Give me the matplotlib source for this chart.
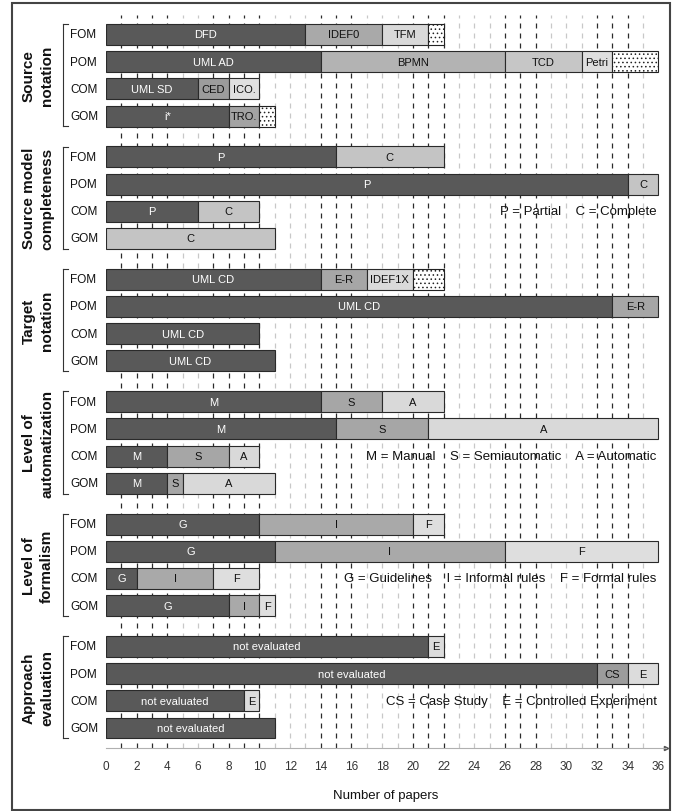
import matplotlib
matplotlib.use("Agg")
import matplotlib.pyplot as plt
from matplotlib.transforms import blended_transform_factory
from matplotlib.patches import Rectangle
from matplotlib.lines import Line2D

plt.rcParams['font.family'] = ['Liberation Sans Narrow', 'Liberation Sans', 'DejaVu Sans']
plt.rcParams['hatch.linewidth'] = 0.6

# ---------------- data ----------------
rows = ["FOM", "POM", "COM", "GOM"]
section_titles = [("Source", "notation"),
                  ("Source model", "completeness"),
                  ("Target", "notation"),
                  ("Level of", "automatization"),
                  ("Level of", "formalism"),
                  ("Approach", "evaluation")]

src_not_labels = [["DFD", "IDEF0", "TFM", "other"],
                  ["UML AD", "BPMN", "TCD", "Petri", "other"],
                  ["UML SD", "CED", "ICO."],
                  ["i*", "TRO.", "other"]]
src_not_values = [[13, 5, 3, 1], [14, 12, 5, 2, 3], [6, 2, 2], [8, 2, 1]]

src_comp_labels = [["P", "C"], ["P", "C"], ["P", "C"], ["C"]]
src_comp_values = [[15, 7], [34, 2], [6, 4], [11]]

tgt_not_labels = [["UML CD", "E-R", "IDEF1X", "other"],
                  ["UML CD", "E-R"], ["UML CD"], ["UML CD"]]
tgt_not_values = [[14, 3, 3, 2], [33, 3], [10], [11]]

auto_labels = [["M", "S", "A"], ["M", "S", "A"], ["M", "S", "A"], ["M", "S", "A"]]
auto_values = [[14, 4, 4], [15, 6, 15], [4, 4, 2], [4, 1, 6]]

form_labels = [["G", "I", "F"], ["G", "I", "F"], ["G", "I", "F"], ["G", "I", "F"]]
form_values = [[10, 10, 2], [11, 15, 10], [2, 5, 3], [8, 2, 1]]

eval_labels = [["not evaluated", "E"], ["not evaluated", "CS", "E"],
               ["not evaluated", "E"], ["not evaluated"]]
eval_values = [[21, 1], [32, 2, 2], [9, 1], [11]]

legend_texts = [None,
                "P = Partial    C = Complete",
                None,
                "M = Manual    S = Semiautomatic    A = Automatic",
                "G = Guidelines    I = Informal rules    F = Formal rules",
                "CS = Case Study    E = Controlled Experiment"]

x_ticks = list(range(0, 37, 2))
x_label = "Number of papers"

# ---------------- styles ----------------
DARK = "#595959"
MID = "#a6a6a6"
LIGHT = "#d9d9d9"
sec_colors = [
    {"DFD": DARK, "IDEF0": "#a9a9a9", "TFM": "#d9d9d9", "UML AD": DARK,
     "BPMN": "#b3b3b3", "TCD": "#c6c6c6", "Petri": "#dedede", "UML SD": DARK,
     "CED": "#9c9c9c", "ICO.": "#e0e0e0", "i*": DARK, "TRO.": "#a3a3a3"},
    {"P": DARK, "C": "#c4c4c4"},
    {"UML CD": DARK, "E-R": "#a6a6a6", "IDEF1X": "#dadada"},
    {"M": DARK, "S": "#a6a6a6", "A": "#d9d9d9"},
    {"G": DARK, "I": "#a9a9a9", "F": "#dedede"},
    {"not evaluated": DARK, "CS": "#9c9c9c", "E": "#dcdcdc"},
]
all_labels = [src_not_labels, src_comp_labels, tgt_not_labels,
              auto_labels, form_labels, eval_labels]
all_values = [src_not_values, src_comp_values, tgt_not_values,
              auto_values, form_values, eval_values]

SEC_STEP = 4.5
BAR_H = 0.77

W, H = 678, 812
fig = plt.figure(figsize=(W / 100, H / 100), dpi=100)
ax = fig.add_axes([106 / W, (H - 749) / H, 560 / W, (749 - 15.5) / H])

dark_lines = [1, 2, 3, 4, 7, 8, 9, 10, 14, 15, 16, 20, 21, 22, 26, 27, 28, 32, 33, 34]
for xv in range(1, 36):
    if xv in dark_lines:
        ax.axvline(xv, color="#2b2b2b", lw=0.9, ls=(0, (4, 4)), zorder=0)
    else:
        ax.axvline(xv, color="#c8c8c8", lw=0.9, ls=(0, (4, 4)), zorder=0)

for s in range(6):
    cmap = sec_colors[s]
    for r in range(4):
        y = s * SEC_STEP + r
        left = 0
        for lab, val in zip(all_labels[s][r], all_values[s][r]):
            if lab == "other":
                ax.barh(y, val, left=left, height=BAR_H, color="white",
                        edgecolor="#222222", hatch="....", lw=0.8, zorder=2)
            else:
                col = cmap[lab]
                ax.barh(y, val, left=left, height=BAR_H, color=col,
                        edgecolor="#2a2a2a", lw=0.8, zorder=2)
                tc = "white" if col == DARK else "#111111"
                ax.text(left + val / 2, y, lab, ha="center", va="center",
                        color=tc, fontsize=8, zorder=3)
            left += val

    if legend_texts[s]:
        ax.text(35.9, s * SEC_STEP + 2, legend_texts[s], ha="right",
                va="center", fontsize=9.5, color="#111111", zorder=3)

ymax = 5 * SEC_STEP + 3
ax.set_ylim(ymax + 0.735, -0.735)
ax.set_xlim(0, 36.5)
ax.set_yticks([])
ax.set_xticks(x_ticks)
ax.tick_params(axis="x", length=0, pad=9, labelsize=8.5, labelcolor="#333333")
ax.set_xlabel(x_label, fontsize=9.5, labelpad=12, color="#111111")
for sp in ["top", "right", "left"]:
    ax.spines[sp].set_visible(False)
ax.spines["bottom"].set_color("#b0b0b0")
ax.spines["bottom"].set_linewidth(0.8)
ax.plot([1], [0], marker=">", ms=3, color="#555555",
        transform=ax.transAxes, clip_on=False)

tr = blended_transform_factory(fig.transFigure, ax.transData)
for s in range(6):
    base = s * SEC_STEP
    for r, name in enumerate(rows):
        ax.text(70 / W, base + r, name, transform=tr, ha="left", va="center",
                fontsize=8.5, color="#111111")
    y0, y1 = base - 0.38, base + 3.38
    bx, bx2 = 63 / W, 68 / W
    for xs, ys in [([bx, bx], [y0, y1]), ([bx, bx2], [y0, y0]), ([bx, bx2], [y1, y1])]:
        ax.add_line(Line2D(xs, ys, transform=tr, color="#333333", lw=0.8,
                           clip_on=False))
    t1, t2 = section_titles[s]
    ax.text(29 / W, base + 1.5, t1, transform=tr, rotation=90, ha="center",
            va="center", fontsize=11, fontweight="bold",
            family=["Liberation Sans", "DejaVu Sans"], color="#111111")
    ax.text(47 / W, base + 1.5, t2, transform=tr, rotation=90, ha="center",
            va="center", fontsize=11, fontweight="bold",
            family=["Liberation Sans", "DejaVu Sans"], color="#111111")

fig.patches.append(Rectangle((12 / W, 1 / H), (670 - 12) / W, (H - 5) / H,
                             transform=fig.transFigure, fill=False,
                             edgecolor="#444444", lw=1.5))

fig.savefig("out.png", dpi=100)
